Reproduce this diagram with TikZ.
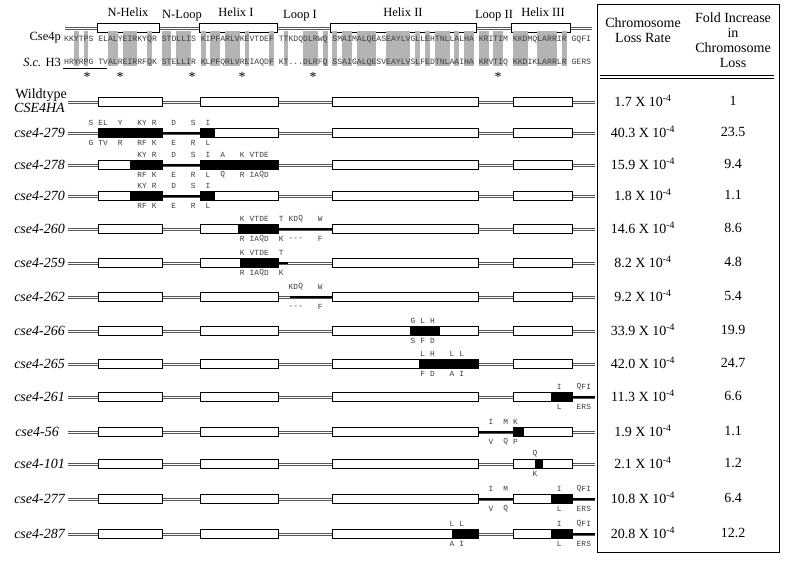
\documentclass[tikz,border=0pt]{standalone}
\usepackage{fontspec}
\setmainfont{Liberation Serif}
\setmonofont{Liberation Mono}
\usetikzlibrary{positioning}
\definecolor{idgray}{HTML}{B4B4B4}
\definecolor{aagray}{HTML}{3C3C3C}
\definecolor{railgray}{HTML}{555555}
\tikzset{
  hbox/.style={draw=black, line width=0.7pt, fill=white},
  mbox/.style={draw=black, line width=0.7pt, fill=black},
  rail/.style={draw=railgray, line width=0.75pt},
  mlink/.style={draw=black, line width=2.8pt},
  rowlab/.style={font=\fontsize{14}{16}\selectfont\itshape, anchor=east, inner sep=0pt},
  domlab/.style={font=\fontsize{12.5}{14}\selectfont, inner sep=0pt},
  seq/.style={font=\fontsize{8.13}{9}\selectfont\ttfamily, anchor=base west, inner sep=0pt, text=aagray},
  aa/.style={font=\fontsize{7.8}{8}\selectfont\ttfamily, inner sep=0pt, text=aagray},
  tab/.style={font=\fontsize{14}{15}\selectfont, inner sep=0pt, align=center},
}
% backbone from x1 to x2 at y: two thin rails
\newcommand{\backbone}[3]{%
  \draw[rail] (#1,#3-1.1) -- (#2,#3-1.1);
  \draw[rail] (#1,#3+1.1) -- (#2,#3+1.1);}
\newcommand{\cserow}[1]{\backbone{68}{595}{#1}}
\newcommand{\helices}[1]{\foreach \a/\b in {98/162,200/278,332/478,513/572}
  \draw[hbox] (\a,#1-4.5) rectangle (\b,#1+4.5);}
% row y, residues above (Cse4p), residues below (H3)
\newcommand{\mutaa}[3]{%
  \foreach \i/\c in {#2} \node[aa] at ({64+(\i+0.5)*4.88},#1-10) {\c};
  \foreach \i/\c in {#3} \node[aa] at ({64+(\i+0.5)*4.88},#1+10) {\c};}

\begin{document}
\begin{tikzpicture}[x=1pt,y=-1pt]
\useasboundingbox (0,0) rectangle (800,573);
\fill[white] (0,0) rectangle (800,573);

% ---------- domain map ----------
\backbone{65}{592}{28}
\foreach \a/\b in {97/159,199/277,330/476,511/570}
  \draw[hbox] (\a,23.5) rectangle (\b,32.5);
\node[domlab] (nhel) at (128,12) {N-Helix};
\node[domlab] (nloop) at (182,16) {N-Loop};
\node[domlab] (hel1) at (236,12) {Helix I};
\node[domlab] (loop1) at (300,16) {Loop I};
\node[domlab] (hel2) at (403,12) {Helix II};
\node[domlab] (loop2) at (494,16) {Loop II};
\node[domlab] (hel3) at (543,12) {Helix III};

% ---------- alignment ----------
\foreach \i in {2,4,9,10,12,13,14,17,20,21,23,24,25,28,30,31,33,34,35,37,42,45,49,50,51,53,55,57,58,60,61,62,63,66,67,68,69,70,72,74,76,77,78,80,82,83,85,86,88,89,92,93,94,97,98,99,100,102}
  \fill[idgray] ({64+\i*4.88},31) rectangle ({64+(\i+1)*4.88},66);
\node[seq] (cse) at (64,41) {KKYTPS ELALYEIRKYQR STDLLIS KIPFARLVKEVTDEF TTKDQDLRWQ SMAIMALQEASEAYLVGLLEHTNLLALHA KRITIM KKDMQLARRIR GQFI};
\node[seq] (hthree) at (64,64.5) {HRYRPG TVALREIRRFQK STELLIR KLPFQRLVREIAQDF KT...DLRFQ SSAIGALQESVEAYLVSLFEDTNLAAIHA KRVTIQ KKDIKLARRLR GERS};
\node[domlab, anchor=east] (csename) at (61,38) {Cse4p};
\node[domlab, anchor=east] (hname) at (61,62) {\textit{S.c.} H3};
\draw[line width=0.7pt] (63,68.5) -- (107,68.5);
\foreach \x in {87,120,192,242,313,498}
  \node[font=\fontsize{14}{14}\selectfont, inner sep=0pt] at (\x,77) {*};

% ---------- wildtype ----------
\node[font=\fontsize{14}{16}\selectfont, anchor=east, inner sep=0pt] (wt) at (67,95) {Wildtype};
\node[rowlab] (wtha) at (65,108) {CSE4HA};
\cserow{102} \helices{102}

% ---------- N-terminal swaps ----------
\node[rowlab] (r279) at (65,133) {cse4-279};
\cserow{133} \draw[mlink] (162,133) -- (200,133); \helices{133}
\draw[mbox] (98,128.5) rectangle (162,137.5);
\draw[mbox] (200,128.5) rectangle (214,137.5);
\mutaa{133}{5/S,7/E,8/L,11/Y,15/K,16/Y,18/R,22/D,26/S,29/I}{5/G,7/T,8/V,11/R,15/R,16/F,18/K,22/E,26/R,29/L}

\node[rowlab] (r278) at (65,165) {cse4-278};
\cserow{165} \draw[mlink] (162,165) -- (200,165); \helices{165}
\draw[mbox] (130,160.5) rectangle (162,169.5);
\draw[mbox] (200,160.5) rectangle (278,169.5);
\mutaa{165}{15/K,16/Y,18/R,22/D,26/S,29/I,32/A,36/K,38/V,39/T,40/D,41/E}{15/R,16/F,18/K,22/E,26/R,29/L,32/Q,36/R,38/I,39/A,40/Q,41/D}

\node[rowlab] (r270) at (65,196) {cse4-270};
\cserow{196} \draw[mlink] (162,196) -- (200,196); \helices{196}
\draw[mbox] (130,191.5) rectangle (162,200.5);
\draw[mbox] (200,191.5) rectangle (214,200.5);
\mutaa{196}{15/K,16/Y,18/R,22/D,26/S,29/I}{15/R,16/F,18/K,22/E,26/R,29/L}

\node[rowlab] (r260) at (65,229) {cse4-260};
\cserow{229} \draw[mlink] (278,229) -- (332,229); \helices{229}
\draw[mbox] (238,224.5) rectangle (278,233.5);
\mutaa{229}{36/K,38/V,39/T,40/D,41/E,44/T,46/K,47/D,48/Q,52/W}{36/R,38/I,39/A,40/Q,41/D,44/K,46/-,47/-,48/-,52/F}

\node[rowlab] (r259) at (65,263) {cse4-259};
\cserow{263} \draw[mlink] (278,263) -- (288,263); \helices{263}
\draw[mbox] (240,258.5) rectangle (278,267.5);
\mutaa{263}{36/K,38/V,39/T,40/D,41/E,44/T}{36/R,38/I,39/A,40/Q,41/D,44/K}

\node[rowlab] (r262) at (65,297) {cse4-262};
\cserow{297} \draw[mlink] (290,297) -- (332,297); \helices{297}
\mutaa{297}{46/K,47/D,48/Q,52/W}{46/-,47/-,48/-,52/F}

% ---------- Helix II swaps ----------
\node[rowlab] (r266) at (65,331) {cse4-266};
\cserow{331} \helices{331}
\draw[mbox] (410,326.5) rectangle (439,335.5);
\mutaa{331}{71/G,73/L,75/H}{71/S,73/F,75/D}

\node[rowlab] (r265) at (65,364) {cse4-265};
\cserow{364} \helices{364}
\draw[mbox] (419,359.5) rectangle (478,368.5);
\mutaa{364}{73/L,75/H,79/L,81/L}{73/F,75/D,79/A,81/I}

% ---------- C-terminal swaps ----------
\node[rowlab] (r261) at (65,397) {cse4-261};
\cserow{397} \draw[mlink] (572,397) -- (595,397); \helices{397}
\draw[mbox] (551,392.5) rectangle (572,401.5);
\mutaa{397}{101/I,105/Q,106/F,107/I}{101/L,105/E,106/R,107/S}

\node[rowlab] (r56) at (59,432) {cse4-56};
\cserow{432} \draw[mlink] (478,432) -- (513,432); \helices{432}
\draw[mbox] (513,427.5) rectangle (523,436.5);
\mutaa{432}{87/I,90/M,92/K}{87/V,90/Q,92/P}

\node[rowlab] (r101) at (65,464) {cse4-101};
\cserow{464} \helices{464}
\draw[mbox] (535,459.5) rectangle (542,468.5);
\mutaa{464}{96/Q}{96/K}

\node[rowlab] (r277) at (65,499) {cse4-277};
\cserow{499} \draw[mlink] (478,499) -- (513,499); \draw[mlink] (572,499) -- (595,499); \helices{499}
\draw[mbox] (551,494.5) rectangle (572,503.5);
\mutaa{499}{87/I,90/M,101/I,105/Q,106/F,107/I}{87/V,90/Q,101/L,105/E,106/R,107/S}

\node[rowlab] (r287) at (65,534) {cse4-287};
\cserow{534} \draw[mlink] (572,534) -- (595,534); \helices{534}
\draw[mbox] (452,529.5) rectangle (478,538.5);
\draw[mbox] (551,529.5) rectangle (572,538.5);
\mutaa{534}{79/L,81/L,101/I,105/Q,106/F,107/I}{79/A,81/I,101/L,105/E,106/R,107/S}

% ---------- loss table ----------
\draw[line width=0.9pt] (597,4) rectangle (779,552);
\draw[line width=0.8pt] (600,75) -- (774,75);
\draw[line width=0.8pt] (600,78.5) -- (774,78.5);
\node[tab] (hrate) at (643,30.5) {Chromosome\\Loss Rate};
\node[tab] (hfold) at (733,40.5) {Fold Increase\\in\\Chromosome\\Loss};
\foreach \y/\r/\f in {102/1.7/1,133/40.3/23.5,165/15.9/9.4,196/1.8/1.1,229/14.6/8.6,263/8.2/4.8,297/9.2/5.4,331/33.9/19.9,364/42.0/24.7,397/11.3/6.6,432/1.9/1.1,464/2.1/1.2,499/10.8/6.4,534/20.8/12.2}{
  \node[tab] (rate\y) at (643,\y-1) {\r\ X 10\textsuperscript{-4}};
  \node[tab] (fold\y) at (733,\y-1) {\f};
}
\end{tikzpicture}
\end{document}
